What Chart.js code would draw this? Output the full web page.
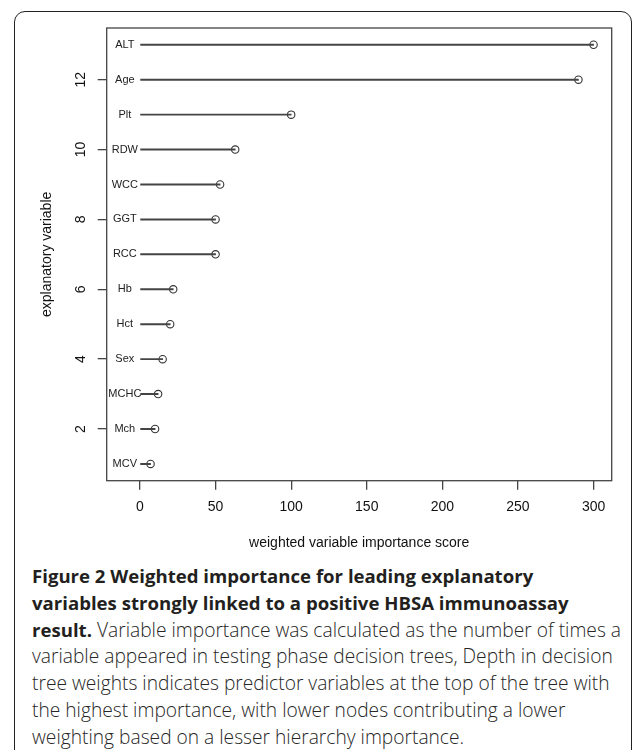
<!DOCTYPE html>
<html>
<head>
<meta charset="utf-8">
<script src="https://cdn.jsdelivr.net/npm/chart.js@4.4.1/dist/chart.umd.min.js"></script>
<style>
    body { margin: 0; background: #fff; width: 633px; height: 750px; overflow: hidden; position: relative; }
    #marco { position: absolute; left: 14px; top: 11px; width: 618px; height: 800px; box-sizing: border-box; border: 1.5px solid #222; border-radius: 11px; }
    #grafico { position: absolute; left: 0; top: 0; }
    #leyenda { position: absolute; left: 32px; top: 563px; font-family: "Open Sans", sans-serif; font-size: 19.2px; font-weight: 300; line-height: 26.8px; color: #262626; white-space: nowrap; }
    #leyenda b { color: #231f20; font-weight: 700; font-size: 18.6px; }
</style>
</head>
<body>
<div id="marco"></div>
<canvas id="grafico" width="633" height="560"></canvas>
<div id="leyenda">
    <b>Figure 2 Weighted importance for leading explanatory</b><br>
    <b>variables strongly linked to a positive HBSA immunoassay</b><br>
    <b>result.</b> Variable importance was calculated as the number of times a<br>
    variable appeared in testing phase decision trees, Depth in decision<br>
    tree weights indicates predictor variables at the top of the tree with<br>
    the highest importance, with lower nodes contributing a lower<br>
    weighting based on a lesser hierarchy importance.
</div>
<script>
// Datos (de abajo hacia arriba)
const variables = ['MCV', 'Mch', 'MCHC', 'Sex', 'Hct', 'Hb', 'RCC', 'GGT', 'WCC', 'RDW', 'Plt', 'Age', 'ALT'];
const posiciones = [1, 2, 3, 4, 5, 6, 7, 8, 9, 10, 11, 12, 13];
const puntajes = [7, 10, 12, 15, 20, 22, 50, 50, 53, 63, 100, 290, 300];
const ticksX = [0, 50, 100, 150, 200, 250, 300];
const ticksY = [2, 4, 6, 8, 10, 12];
const posEtiqueta = -10;

const fuente = 'Liberation Sans, Arial, sans-serif';
const gris = '#444';

// Nombres de las variables y marco del área de trazado
const etiquetasPlugin = {
    id: 'etiquetas',
    afterDatasetsDraw(chart) {
        const { ctx, chartArea, scales } = chart;
        ctx.save();
        ctx.strokeStyle = gris;
        ctx.lineWidth = 1.3;
        ctx.strokeRect(chartArea.left, chartArea.top, chartArea.right - chartArea.left, chartArea.bottom - chartArea.top);
        ctx.font = '11px ' + fuente;
        ctx.fillStyle = '#222';
        ctx.textAlign = 'center';
        ctx.textBaseline = 'middle';
        variables.forEach((v, i) => {
            ctx.fillText(v, scales.x.getPixelForValue(posEtiqueta), scales.y.getPixelForValue(posiciones[i]));
        });
        ctx.restore();
    }
};

new Chart(document.getElementById('grafico'), {
    type: 'scatter',
    data: {
        datasets: [{
            type: 'bar',
            indexAxis: 'y',
            data: variables.map((v, i) => ({ x: [0, puntajes[i]], y: posiciones[i] })),
            backgroundColor: gris,
            borderWidth: 0,
            barThickness: 1.3
        }, {
            type: 'scatter',
            data: variables.map((v, i) => ({ x: puntajes[i], y: posiciones[i] })),
            pointRadius: 3.7,
            pointBorderWidth: 1.1,
            pointBorderColor: '#333',
            pointBackgroundColor: 'rgba(0,0,0,0)'
        }]
    },
    options: {
        responsive: false,
        animation: false,
        layout: { padding: { left: 0, top: 28, right: 21.3, bottom: 0 } },
        plugins: {
            legend: { display: false },
            tooltip: { enabled: false }
        },
        scales: {
            x: {
                type: 'linear',
                min: -22,
                max: 312,
                offset: false,
                afterBuildTicks: s => { s.ticks = ticksX.map(v => ({ value: v })); },
                afterFit: s => { s.height = 79.3; },
                grid: { drawOnChartArea: false, offset: false, tickLength: 9, color: gris, lineWidth: 1.3 },
                border: { display: false },
                ticks: { font: { family: fuente, size: 14 }, color: '#111', padding: 9, maxRotation: 0, autoSkip: false },
                title: {
                    display: true,
                    text: 'weighted variable importance score',
                    font: { family: fuente, size: 14 },
                    color: '#111',
                    padding: { top: 0, bottom: 8.6 }
                }
            },
            y: {
                type: 'linear',
                min: 0.52,
                max: 13.48,
                offset: false,
                afterBuildTicks: s => { s.ticks = ticksY.map(v => ({ value: v })); },
                afterFit: s => { s.width = 106.7; },
                grid: { drawOnChartArea: false, offset: false, tickLength: 9, color: gris, lineWidth: 1.3 },
                border: { display: false },
                ticks: { font: { family: fuente, size: 14 }, color: '#111', padding: 9, minRotation: 90, maxRotation: 90, crossAlign: 'center', autoSkip: false },
                title: {
                    display: true,
                    text: 'explanatory variable',
                    font: { family: fuente, size: 14 },
                    color: '#111',
                    padding: { top: 38.3, bottom: 0 }
                }
            }
        }
    },
    plugins: [etiquetasPlugin]
});
</script>
</body>
</html>
